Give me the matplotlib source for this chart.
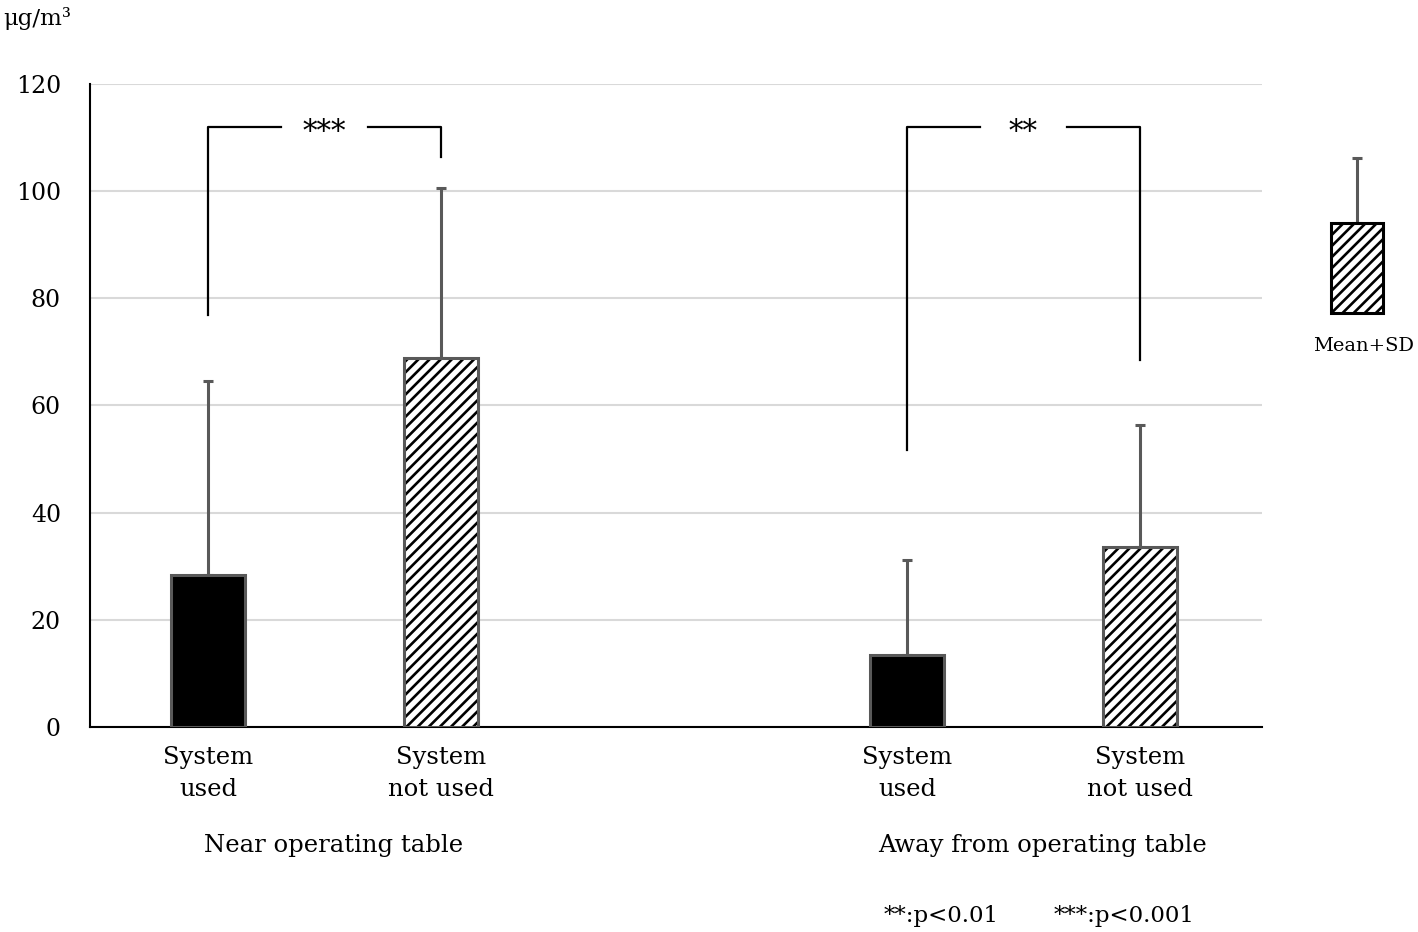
import matplotlib.pyplot as plt
import numpy as np

plt.rcParams['font.family'] = ['DejaVu Serif']
plt.rcParams['hatch.linewidth'] = 1.9
plt.rcParams['hatch.color'] = 'black'

# data (µg/m3)
positions = [1, 2, 4, 5]
means = [28.3, 68.8, 13.5, 33.5]
sds = [36.3, 31.8, 17.6, 22.8]
hatches = ['', '///', '', '///']
facecolors = ['black', 'white', 'black', 'white']
tick_labels = ['System\nused', 'System\nnot used', 'System\nused', 'System\nnot used']
groups = ['Near operating table', 'Away from operating table']
group_pos = [1.54, 4.58]

# significance brackets: (left x, right x, left foot, right foot, top, label)
brackets = [(1, 2, 76.9, 106.4, 112, '***'),
            (4, 5, 51.7, 68.5, 112, '**')]

# key in the right margin
key_bottom = 77.3
key_mean = 94.1
key_sd = 12.1

edge = '#595959'

fig = plt.figure(figsize=(14.18, 9.32), dpi=100)
ax = fig.add_axes([0.0635, 0.22, 0.8265, 0.69])

# fill + black hatch first, then the grey outline on top
ax.bar(positions, means, width=0.315, color=facecolors, edgecolor='black',
       linewidth=0, hatch=hatches, zorder=3)
ax.bar(positions, means, width=0.315, fill=False, edgecolor=edge,
       linewidth=2.2, zorder=4)
ax.errorbar(positions, means, yerr=[np.zeros(len(sds)), sds], fmt='none',
            ecolor=edge, elinewidth=2.2, capsize=3.6, capthick=2.2, zorder=2)

ax.set_ylim(0, 120)
ax.set_xlim(0.494, 5.524)
ax.set_yticks(np.arange(0, 121, 20))
ax.yaxis.grid(True, color='#d9d9d9', linewidth=1.5, zorder=0)
ax.set_axisbelow(True)
ax.spines['right'].set_visible(False)
ax.spines['top'].set_visible(False)
ax.spines['left'].set_linewidth(1.5)
ax.spines['bottom'].set_linewidth(1.5)
ax.tick_params(axis='y', length=0, pad=21, labelsize=17)
ax.tick_params(axis='x', length=0, pad=14, labelsize=17.5)
ax.set_xticks(positions)
ax.set_xticklabels(tick_labels, linespacing=1.5)

for g, gx in zip(groups, group_pos):
    ax.text(gx, -0.185, g, transform=ax.get_xaxis_transform(), ha='center',
            va='center', fontsize=17.5)

for x0, x1, f0, f1, top, lab in brackets:
    gap = 0.185
    ax.plot([x0, x0, x0 + 0.5 - gap], [f0, top, top], color='black', lw=1.6,
            zorder=4, clip_on=False)
    ax.plot([x1 - 0.5 + gap, x1, x1], [top, top, f1], color='black', lw=1.6,
            zorder=4, clip_on=False)
    ax.text((x0 + x1) / 2, top - 0.9, lab, ha='center', va='center',
            fontsize=21)

fig.text(0.002, 0.98, 'μg/m³', ha='left', va='center', fontsize=16.5)
fig.text(0.623, 0.017, '**:p<0.01', ha='left', va='center', fontsize=16.5)
fig.text(0.743, 0.017, '***:p<0.001', ha='left', va='center', fontsize=16.5)

# key axes sharing the vertical scale
kax = fig.add_axes([0.9, 0.22, 0.1, 0.69])
kax.set_ylim(0, 120)
kax.set_xlim(0, 1)
kax.axis('off')
kax.bar([0.57], [key_mean - key_bottom], bottom=key_bottom, width=0.37,
        color='white', edgecolor='black', linewidth=2.2, hatch='///', zorder=3)
kax.errorbar([0.57], [key_mean], yerr=[[0], [key_sd]], fmt='none',
             ecolor=edge, elinewidth=2.2, capsize=3.6, capthick=2.2, zorder=2)
kax.text(0.615, 71, 'Mean+SD', ha='center', va='center', fontsize=14)

fig.savefig('out.png', dpi=100)
